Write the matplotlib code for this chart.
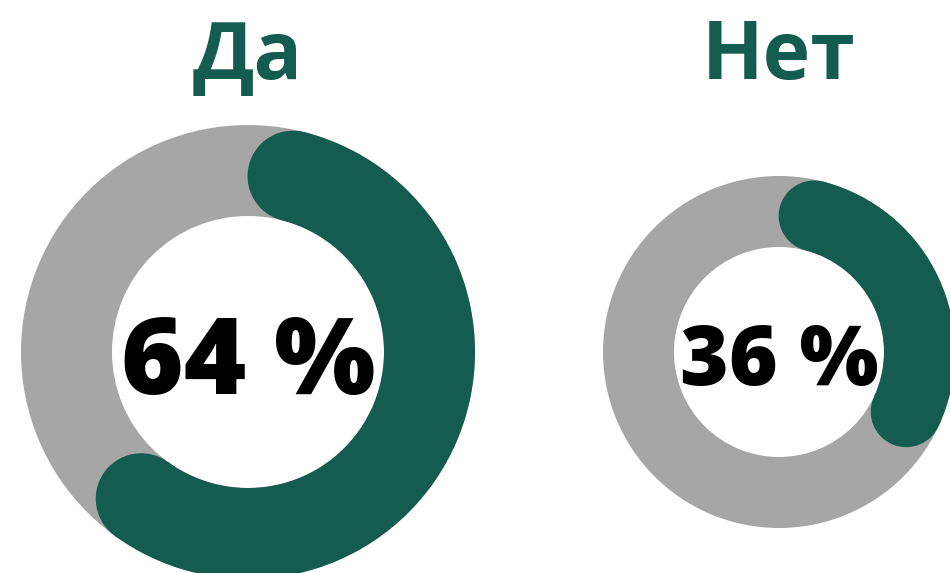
import matplotlib.pyplot as plt
from matplotlib.patches import Wedge, Circle
import numpy as np

# dados
rotulos = ['Да', 'Нет']
valores = [64, 36]

verde = '#145c50'
cinza = '#a6a6a6'

# layout (pixels, y para cima)
centros = [(248, 221), (779, 221)]
raios_ext = [227, 176]
raios_int = [136, 105]

fig = plt.figure(figsize=(9.5, 5.73), dpi=100)
ax = fig.add_axes([0, 0, 1, 1])
ax.set_xlim(0, 950)
ax.set_ylim(0, 573)
ax.set_aspect('equal')
ax.axis('off')

tam_pct = [77, 60]

for i, (rot, v) in enumerate(zip(rotulos, valores)):
    cx, cy = centros[i]
    ro, ri = raios_ext[i], raios_int[i]
    larg = ro - ri
    rm = (ro + ri) / 2
    # anel cinza
    ax.add_patch(Wedge((cx, cy), ro, 0, 360, width=larg, color=cinza, lw=0))
    # arco verde com pontas arredondadas
    span = 360 * v / 100
    off = np.degrees((larg / 2) / rm)
    t1 = 90 - (span - off)
    t2 = 90 - off
    ax.add_patch(Wedge((cx, cy), ro, t1, t2, width=larg, color=verde, lw=0))
    for t in (t1, t2):
        a = np.radians(t)
        ax.add_patch(Circle((cx + rm * np.cos(a), cy + rm * np.sin(a)), larg / 2,
                            color=verde, lw=0))
    # titulo
    ax.text(cx, 494, rot, ha='center', va='baseline', fontsize=58,
            fontweight='bold', color=verde, family=['Open Sans', 'DejaVu Sans'])
    # percentual
    ax.text(cx, 179 if i == 0 else 188, f'{v} %', ha='center', va='baseline',
            fontsize=tam_pct[i], fontweight='heavy', color='black',
            family=['Open Sans', 'DejaVu Sans'])

fig.savefig('out.png', dpi=100)
